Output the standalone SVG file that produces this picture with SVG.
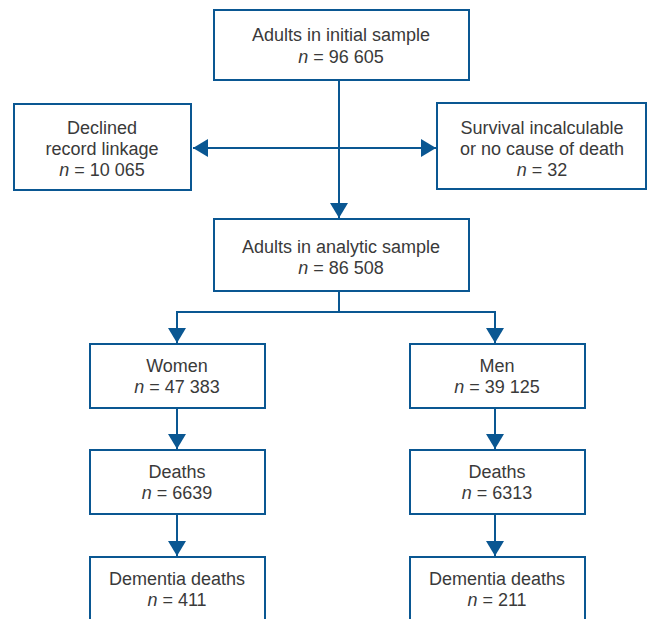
<svg xmlns="http://www.w3.org/2000/svg" width="648" height="619" viewBox="0 0 648 619">
<defs>
<style>
.box{fill:#fff;stroke:#0a5792;stroke-width:2}
.t{font-family:"Liberation Sans",Arial,sans-serif;font-size:18px;fill:#3a3a3a;text-anchor:middle}
.i{font-style:italic}
.c{fill:none;stroke:#0a5792;stroke-width:2}
</style>
<marker id="a" viewBox="0 0 15 18" refX="15" refY="9" markerWidth="15" markerHeight="18" markerUnits="userSpaceOnUse" orient="auto">
<path d="M0,0 L15,9 L0,18 Z" fill="#0a5792"/>
</marker>
</defs>
<rect width="648" height="619" fill="#fff"/>
<g id="connectors">
<path class="c" d="M339,80 V218" marker-end="url(#a)"/>
<path class="c" d="M339,148 H193" marker-end="url(#a)"/>
<path class="c" d="M339,148 H436" marker-end="url(#a)"/>
<path class="c" d="M339,291 V312 M176,312 H496"/>
<path class="c" d="M177,311 V343" marker-end="url(#a)"/>
<path class="c" d="M495,311 V343" marker-end="url(#a)"/>
<path class="c" d="M177,408 V449" marker-end="url(#a)"/>
<path class="c" d="M495,408 V449" marker-end="url(#a)"/>
<path class="c" d="M177,514 V556" marker-end="url(#a)"/>
<path class="c" d="M495,514 V556" marker-end="url(#a)"/>
</g>
<g id="initial">
<rect class="box" x="214" y="10" width="255" height="70"/>
<text class="t" x="341" y="41">Adults in initial sample</text>
<text class="t" x="341" y="63"><tspan class="i">n</tspan> = 96 605</text>
</g>
<g id="declined">
<rect class="box" x="14" y="104" width="177" height="86"/>
<text class="t" x="102" y="134">Declined</text>
<text class="t" x="102" y="155">record linkage</text>
<text class="t" x="102" y="176"><tspan class="i">n</tspan> = 10 065</text>
</g>
<g id="survival">
<rect class="box" x="437" y="103" width="209" height="86"/>
<text class="t" x="542" y="134">Survival incalculable</text>
<text class="t" x="542" y="155">or no cause of death</text>
<text class="t" x="542" y="176"><tspan class="i">n</tspan> = 32</text>
</g>
<g id="analytic">
<rect class="box" x="214" y="219" width="255" height="72"/>
<text class="t" x="341" y="253">Adults in analytic sample</text>
<text class="t" x="341" y="274"><tspan class="i">n</tspan> = 86 508</text>
</g>
<g id="women">
<rect class="box" x="90" y="344" width="175" height="64"/>
<text class="t" x="177" y="372">Women</text>
<text class="t" x="177" y="393"><tspan class="i">n</tspan> = 47 383</text>
</g>
<g id="men">
<rect class="box" x="410" y="344" width="175" height="64"/>
<text class="t" x="497" y="372">Men</text>
<text class="t" x="497" y="393"><tspan class="i">n</tspan> = 39 125</text>
</g>
<g id="women-deaths">
<rect class="box" x="90" y="450" width="175" height="64"/>
<text class="t" x="177" y="478">Deaths</text>
<text class="t" x="177" y="499"><tspan class="i">n</tspan> = 6639</text>
</g>
<g id="men-deaths">
<rect class="box" x="410" y="450" width="175" height="64"/>
<text class="t" x="497" y="478">Deaths</text>
<text class="t" x="497" y="499"><tspan class="i">n</tspan> = 6313</text>
</g>
<g id="women-dementia">
<rect class="box" x="90" y="557" width="175" height="70"/>
<text class="t" x="177" y="585">Dementia deaths</text>
<text class="t" x="177" y="606"><tspan class="i">n</tspan> = 411</text>
</g>
<g id="men-dementia">
<rect class="box" x="410" y="557" width="175" height="70"/>
<text class="t" x="497" y="585">Dementia deaths</text>
<text class="t" x="497" y="606"><tspan class="i">n</tspan> = 211</text>
</g>
</svg>
